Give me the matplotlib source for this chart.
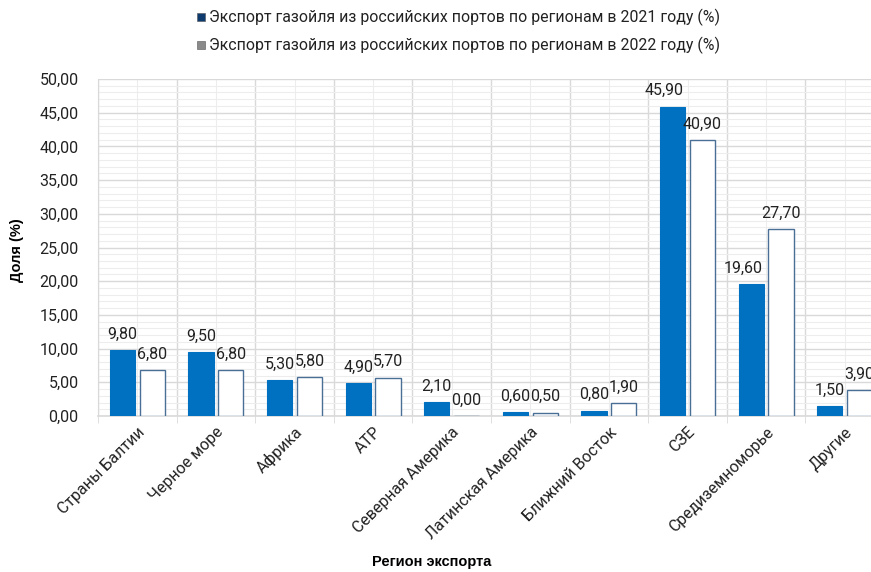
import numpy as np
import matplotlib.pyplot as plt
from matplotlib.ticker import MultipleLocator, FuncFormatter
from matplotlib.transforms import ScaledTranslation

regions = ['Страны Балтии', 'Черное море', 'Африка', 'АТР', 'Северная Америка',
           'Латинская Америка', 'Ближний Восток', 'СЗЕ', 'Средиземноморье', 'Другие']
share_2021 = [9.8, 9.5, 5.3, 4.9, 2.1, 0.6, 0.8, 45.9, 19.6, 1.5]
share_2022 = [6.8, 6.8, 5.8, 5.7, 0.0, 0.5, 1.9, 40.9, 27.7, 3.9]
label_2021 = 'Экспорт газойля из российских портов по регионам в 2021 году (%)'
label_2022 = 'Экспорт газойля из российских портов по регионам в 2022 году (%)'

plt.rcParams['font.family'] = ['Roboto', 'DejaVu Sans']
text_color = '#222222'

fig = plt.figure(figsize=(8.71, 5.72), dpi=100)
# plot area runs past the right edge of the picture, as in the source
ax = fig.add_axes([98 / 871, 1 - 416 / 572, (884 - 98) / 871, (416 - 79) / 572])

x = np.arange(len(regions))
w = 0.32
off = 0.19
b1 = ax.bar(x - off, share_2021, w, color='#0070c0', edgecolor='#0070c0', linewidth=0.8, zorder=3)
b2 = ax.bar(x + off, share_2022, w, color='white', edgecolor='#4a6f96', linewidth=1.0, zorder=3)

fmt = lambda v: f'{v:.2f}'.replace('.', ',')
for bars, vals in ((b1, share_2021), (b2, share_2022)):
    for r, v in zip(bars, vals):
        dx = -6 if (bars is b1 and v > 15) else 0  # labels nudged left like in the source
        ax.annotate(fmt(v), (r.get_x() + r.get_width() / 2, v), xytext=(dx, 6),
                    textcoords='offset points', ha='center', va='bottom',
                    fontsize=11.5, color=text_color)

ax.set_xlim(-0.5, len(regions) - 0.5)
ax.set_ylim(0, 50)
ax.yaxis.set_major_locator(MultipleLocator(5))
ax.yaxis.set_minor_locator(MultipleLocator(1))
ax.yaxis.set_major_formatter(FuncFormatter(lambda v, p: fmt(v)))
ax.set_xticks(x)
ax.set_xticks(np.arange(len(regions) + 1) - 0.5, minor=True)
ax.set_xticklabels(regions, rotation=45, ha='right', rotation_mode='anchor',
                   fontsize=11.5, color=text_color)
shift = ScaledTranslation(9 / 100, 0, fig.dpi_scale_trans)
for lbl in ax.get_xticklabels():
    lbl.set_transform(lbl.get_transform() + shift)
ax.tick_params(axis='x', which='major', length=0, pad=6)
ax.tick_params(axis='x', which='minor', length=5, color='#d9d9d9')
ax.tick_params(axis='y', which='both', length=0, labelsize=11.5, labelcolor=text_color, pad=14)

ax.grid(True, which='major', axis='y', color='#d9d9d9', linewidth=1.0, zorder=0)
ax.grid(True, which='minor', axis='y', color='#ededed', linewidth=0.8, zorder=0)
ax.grid(True, which='minor', axis='x', color='#d9d9d9', linewidth=1.0, zorder=0)
ax.grid(True, which='major', axis='x', color='#ededed', linewidth=0.8, zorder=0)
ax.set_axisbelow(True)
for s in ('top', 'right'):
    ax.spines[s].set_visible(False)
ax.spines['left'].set_color('#d9d9d9')
ax.spines['bottom'].set_color('#d9d9d9')
ax.spines['bottom'].set_linewidth(1.2)

fig.text(17 / 871, 1 - 250 / 572, 'Доля (%)', rotation=90, ha='center', va='center',
         fontsize=10.5, fontweight='bold', color='black',
         family=['Liberation Sans Narrow', 'Liberation Sans', 'DejaVu Sans'])
fig.text(432 / 871, 1 - 562 / 572, 'Регион экспорта', ha='center', va='center',
         fontsize=10.5, fontweight='bold', color='black',
         family=['Liberation Sans Narrow', 'Liberation Sans', 'DejaVu Sans'])

# legend, two rows at the top
for yy, col, lab in ((17, '#0d3b6e', label_2021), (45, '#8a8a8a', label_2022)):
    fig.patches.append(plt.Rectangle((197 / 871, 1 - (yy + 4) / 572), 8 / 871, 8 / 572,
                                     transform=fig.transFigure, facecolor=col,
                                     edgecolor='#555555', linewidth=0.4))
    fig.text(209 / 871, 1 - yy / 572, lab, ha='left', va='center',
             fontsize=11.4, color=text_color)

fig.savefig('out.png', dpi=100)
